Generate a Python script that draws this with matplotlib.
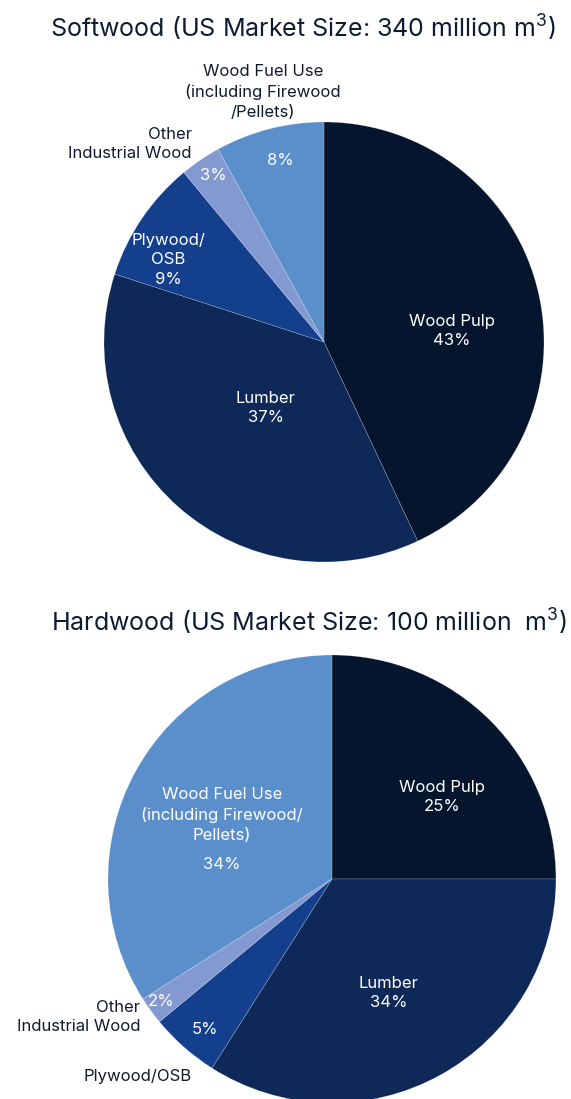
import matplotlib.pyplot as plt

plt.rcParams['font.family'] = ['Inter', 'DejaVu Sans']
plt.rcParams['mathtext.fontset'] = 'custom'
plt.rcParams['mathtext.rm'] = 'Inter'

# Data
categories = ["Wood Pulp", "Lumber", "Plywood/OSB", "Other Industrial Wood", "Wood Fuel Use"]
softwood = [43, 37, 9, 3, 8]
hardwood = [25, 34, 5, 2, 34]
colors = ["#06152e", "#0e2857", "#133f8c", "#8499cf", "#5b8fcb"]

soft_title = r"Softwood (US Market Size: 340 million m$^{\mathrm{3}}$)"
hard_title = r"Hardwood (US Market Size: 100 million  m$^{\mathrm{3}}$)"

# label text per wedge: (text, x, y, color, ha)
soft_labels = [
    ("Wood Pulp\n43%", 0.582, 0.05, "white", "center"),
    ("Lumber\n37%", -0.264, -0.30, "white", "center"),
    ("Plywood/\nOSB\n9%", -0.709, 0.373, "white", "center"),
    ("3%", -0.505, 0.755, "white", "center"),
    ("8%", -0.20, 0.827, "white", "center"),
    ("Other\nIndustrial Wood", -0.60, 0.90, "#121a2e", "right"),
    ("Wood Fuel Use\n(including Firewood\n/Pellets)", -0.277, 1.136, "#121a2e", "center"),
]
hard_labels = [
    ("Wood Pulp\n25%", 0.491, 0.366, "white", "center"),
    ("Lumber\n34%", 0.254, -0.509, "white", "center"),
    ("Wood Fuel Use\n(including Firewood/\nPellets)", -0.491, 0.285, "white", "center"),
    ("34%", -0.491, 0.063, "white", "center"),
    ("2%", -0.763, -0.549, "white", "center"),
    ("5%", -0.567, -0.67, "white", "center"),
    ("Other\nIndustrial Wood", -0.857, -0.616, "#121a2e", "right"),
    ("Plywood/OSB", -0.866, -0.884, "#121a2e", "center"),
]

fig = plt.figure(figsize=(5.71, 10.99), dpi=100)

ax1 = fig.add_axes([0.1821, 0.4886, 0.7706, 0.4004])
ax2 = fig.add_axes([0.1891, -0.0036, 0.7846, 0.4076])

for ax, vals, labels in [(ax1, softwood, soft_labels), (ax2, hardwood, hard_labels)]:
    ax.pie(vals, colors=colors, startangle=90, counterclock=False, radius=1,
           wedgeprops=dict(edgecolor="#ffffff80", linewidth=0.25))
    ax.set_xlim(-1, 1)
    ax.set_ylim(-1, 1)
    ax.set_aspect("equal")
    for txt, x, y, c, ha in labels:
        ax.text(x, y, txt, color=c, ha=ha, va="center", fontsize=12,
                multialignment=ha, linespacing=1.38, clip_on=False)

fig.text(0.531, 0.975, soft_title, ha="center", va="center", fontsize=18, color="#0d1b33")
fig.text(0.541, 0.434, hard_title, ha="center", va="center", fontsize=18, color="#0d1b33")

fig.savefig("out.png", dpi=100)
